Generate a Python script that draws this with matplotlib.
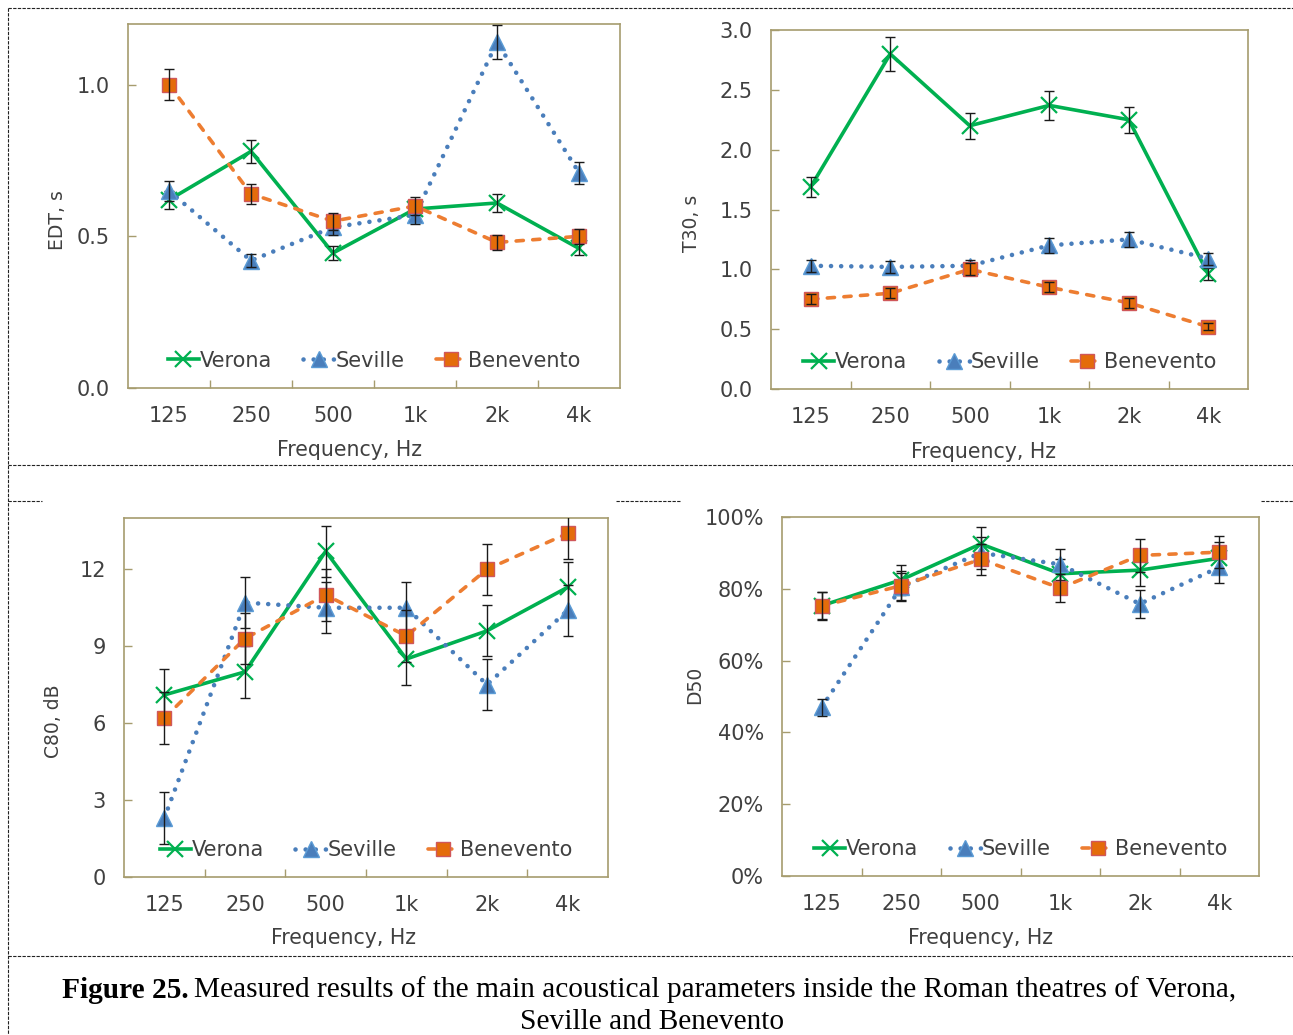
import matplotlib
matplotlib.use("Agg")
import matplotlib.pyplot as plt
from matplotlib.lines import Line2D
from matplotlib.ticker import FuncFormatter, FixedLocator, MultipleLocator

# ---------------- data ----------------
freqs = ['125', '250', '500', '1k', '2k', '4k']
series_names = ['Verona', 'Seville', 'Benevento']

edt_verona = [0.62, 0.78, 0.445, 0.59, 0.61, 0.46]
edt_seville = [0.65, 0.42, 0.53, 0.57, 1.14, 0.71]
edt_benevento = [1.00, 0.64, 0.55, 0.60, 0.48, 0.50]
edt_verona_err = [0.031, 0.039, 0.022, 0.030, 0.030, 0.023]
edt_seville_err = [0.033, 0.021, 0.027, 0.029, 0.057, 0.036]
edt_benevento_err = [0.050, 0.032, 0.028, 0.030, 0.024, 0.025]

t30_verona = [1.69, 2.80, 2.20, 2.37, 2.25, 0.96]
t30_seville = [1.03, 1.02, 1.03, 1.20, 1.25, 1.09]
t30_benevento = [0.75, 0.80, 1.00, 0.85, 0.72, 0.52]
t30_verona_err = [0.085, 0.14, 0.11, 0.12, 0.11, 0.05]
t30_seville_err = [0.05, 0.05, 0.05, 0.06, 0.06, 0.05]
t30_benevento_err = [0.04, 0.04, 0.05, 0.04, 0.04, 0.03]

c80_verona = [7.1, 8.0, 12.7, 8.5, 9.6, 11.3]
c80_seville = [2.3, 10.7, 10.5, 10.5, 7.5, 10.4]
c80_benevento = [6.2, 9.3, 11.0, 9.4, 12.0, 13.4]
c80_verona_err = [1.0, 1.0, 1.0, 1.0, 1.0, 1.0]
c80_seville_err = [1.0, 1.0, 1.0, 1.0, 1.0, 1.0]
c80_benevento_err = [1.0, 1.0, 1.0, 1.0, 1.0, 1.0]

d50_verona = [75.3, 82.5, 92.5, 84.2, 85.2, 88.5]
d50_seville = [47.0, 80.5, 90.0, 86.8, 75.8, 86.0]
d50_benevento = [75.2, 80.9, 88.2, 80.2, 89.3, 90.2]
d50_verona_err = [3.8, 4.1, 4.6, 4.2, 4.3, 4.4]
d50_seville_err = [2.4, 4.0, 4.5, 4.3, 3.8, 4.3]
d50_benevento_err = [3.8, 4.0, 4.4, 4.0, 4.5, 4.5]

# ---------------- style ----------------
FRAME = '#A69C6E'
TXT = '#404040'
GREEN = '#00B050'
BLUE = '#4A7EBB'
BLUE_EDGE = '#5B9BD5'
ORANGE = '#E46C0A'
ORANGE_LINE = '#ED7D31'
SQ_EDGE = '#D0575A'

plt.rcParams['font.family'] = ['DejaVu Sans']

fig = plt.figure(figsize=(12.93, 10.35), dpi=100)
W, H = 1293.0, 1035.0


def px_axes(l, t, r, b):
    return fig.add_axes([l / W, 1 - b / H, (r - l) / W, (b - t) / H])


styles = {
    'Verona': dict(color=GREEN, lw=2.6, ls='-', marker='x', ms=12, mew=1.6,
                   mfc=GREEN, mec=GREEN),
    'Seville': dict(color=BLUE, lw=3.3, ls=(0, (0.01, 2.2)), marker='^', ms=11,
                    mew=1.0, mfc=BLUE, mec=BLUE_EDGE, dash_capstyle='round'),
    'Benevento': dict(color=ORANGE_LINE, lw=2.6, ls=(0, (2.0, 2.6)), marker='s', ms=9.5,
                      mew=1.0, mfc=ORANGE, mec=SQ_EDGE, dash_capstyle='round'),
}


def panel(box, vals, errs, ylim, major, fmt, ylabel, ylabel_xy, xlabel_xy):
    ax = px_axes(*box)
    x = list(range(len(freqs)))
    for i, (name, v, e) in enumerate(zip(series_names, vals, errs)):
        st = styles[name]
        z = 3 + i
        ax.plot(x, v, label=name, zorder=z, **st)
        ax.errorbar(x, v, yerr=e, fmt='none', ecolor='#1a1a1a', elinewidth=1.0,
                    capsize=3.5, capthick=1.0, zorder=z + 0.5)
    ax.set_xlim(-0.5, len(freqs) - 0.5)
    ax.set_ylim(*ylim)
    ax.xaxis.set_major_locator(FixedLocator(x))
    ax.set_xticklabels(freqs)
    ax.xaxis.set_minor_locator(FixedLocator([i + 0.5 for i in range(len(freqs) - 1)]))
    ax.yaxis.set_major_locator(MultipleLocator(major))
    ax.yaxis.set_major_formatter(FuncFormatter(fmt))
    ax.tick_params(axis='x', which='major', length=0, pad=13, labelsize=15, labelcolor=TXT)
    ax.tick_params(axis='x', which='minor', direction='in', length=6, width=1, color=FRAME)
    ax.tick_params(axis='y', which='major', direction='in', length=6, width=1, color=FRAME,
                   pad=13, labelsize=15, labelcolor=TXT)
    for s in ax.spines.values():
        s.set_color(FRAME)
        s.set_linewidth(1.2)
    ax.set_ylabel(ylabel, fontsize=13.5, color=TXT, va='center')
    ax.yaxis.set_label_coords(*ylabel_xy)
    ax.set_xlabel('Frequency, Hz', fontsize=14.8, color=TXT, va='center')
    ax.xaxis.set_label_coords(*xlabel_xy)
    ax.legend(loc='center', bbox_to_anchor=(0.5, 0.075), ncol=3, frameon=False,
              fontsize=15, handlelength=1.5, handletextpad=0.05, columnspacing=1.5,
              labelcolor=TXT)
    return ax


panel((128, 24, 620, 388), [edt_verona, edt_seville, edt_benevento],
      [edt_verona_err, edt_seville_err, edt_benevento_err], (0, 1.2), 0.5,
      lambda v, p: f'{v:.1f}', 'EDT, s', (-0.144, 0.462), (0.451, -0.170))

panel((771, 30, 1248, 389), [t30_verona, t30_seville, t30_benevento],
      [t30_verona_err, t30_seville_err, t30_benevento_err], (0, 3.0), 0.5,
      lambda v, p: f'{v:.1f}', 'T30, s', (-0.167, 0.461), (0.446, -0.175))

panel((124, 518, 608, 877), [c80_verona, c80_seville, c80_benevento],
      [c80_verona_err, c80_seville_err, c80_benevento_err], (0, 14), 3,
      lambda v, p: f'{v:.0f}', 'C80, dB', (-0.145, 0.435), (0.4535, -0.170))

panel((782, 517, 1259, 876), [d50_verona, d50_seville, d50_benevento],
      [d50_verona_err, d50_seville_err, d50_benevento_err], (0, 100), 20,
      lambda v, p: f'{v:.0f}%', 'D50', (-0.183, 0.532), (0.417, -0.173))


# ---------------- dashed frame ----------------
def hline(y, x0, x1):
    fig.add_artist(Line2D([x0 / W, x1 / W], [1 - y / H, 1 - y / H], transform=fig.transFigure,
                          color='#222222', lw=0.8, ls=(0, (3, 1.2))))


def vline(x, y0, y1):
    fig.add_artist(Line2D([x / W, x / W], [1 - y0 / H, 1 - y1 / H], transform=fig.transFigure,
                          color='#222222', lw=0.8, ls=(0, (3, 1.2))))


hline(8, 8, 1293)
hline(465, 8, 1293)
hline(501, 8, 42)
hline(501, 616, 681)
hline(501, 1261, 1293)
hline(956, 8, 1293)
vline(8, 8, 1035)

# ---------------- caption ----------------
cap_font = ['Liberation Serif', 'DejaVu Serif']
CAP = 21.2
t1 = fig.text(62 / W, 1 - 990 / H, 'Figure 25.', fontsize=CAP, fontweight='bold',
              family=cap_font, ha='left', va='center', color='black')
fig.canvas.draw()
bb = t1.get_window_extent()
fig.text((bb.x1 + 5) / W, 1 - 990 / H,
         'Measured results of the main acoustical parameters inside the Roman theatres of Verona,',
         fontsize=CAP, family=cap_font, ha='left', va='center', color='black')
fig.text(652 / W, 1 - 1022 / H, 'Seville and Benevento', fontsize=CAP, family=cap_font,
         ha='center', va='center', color='black')

fig.savefig('out.png', dpi=100, facecolor='white')
